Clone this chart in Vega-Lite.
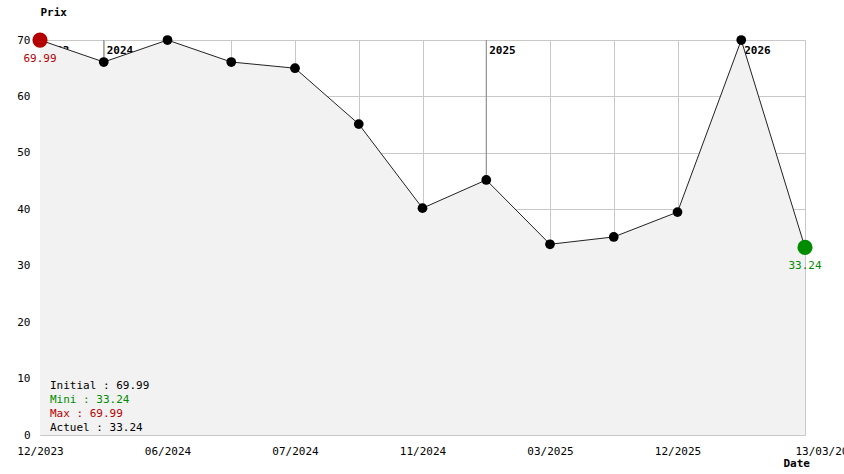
{
  "$schema": "https://vega.github.io/schema/vega-lite/v6.json",
  "width": 765,
  "height": 395,
  "autosize": "none",
  "padding": {"left": 40, "top": 40, "right": 39, "bottom": 39},
  "background": "white",
  "config": {
    "view": {"stroke": null},
    "font": "DejaVu Sans Mono",
    "text": {"font": "DejaVu Sans Mono", "fontSize": 11}
  },
  "datasets": {
    "prices": [
      {"i": 0, "v": 69.99},
      {"i": 1, "v": 66.1},
      {"i": 2, "v": 69.99},
      {"i": 3, "v": 66.1},
      {"i": 4, "v": 65.0},
      {"i": 5, "v": 55.1},
      {"i": 6, "v": 40.2},
      {"i": 7, "v": 45.2},
      {"i": 8, "v": 33.8},
      {"i": 9, "v": 35.1},
      {"i": 10, "v": 39.5},
      {"i": 11, "v": 69.99},
      {"i": 12, "v": 33.24}
    ],
    "years": [
      {"i": 0, "v": 69.99, "top": 70, "year": "2023"},
      {"i": 1, "v": 66.1, "top": 70, "year": "2024"},
      {"i": 7, "v": 45.2, "top": 70, "year": "2025"},
      {"i": 11, "v": 69.99, "top": 70, "year": "2026"}
    ],
    "extremes": [
      {"i": 0, "v": 69.99, "label": "69.99", "kind": "max"},
      {"i": 12, "v": 33.24, "label": "33.24", "kind": "min"}
    ],
    "legend": [
      {"i": 0, "v": 8.68, "label": "Initial : 69.99", "kind": "normal"},
      {"i": 0, "v": 6.2, "label": "Mini : 33.24", "kind": "min"},
      {"i": 0, "v": 3.72, "label": "Max : 69.99", "kind": "max"},
      {"i": 0, "v": 1.24, "label": "Actuel : 33.24", "kind": "normal"}
    ]
  },
  "layer": [
    {
      "data": {"name": "years"},
      "mark": {"type": "rule", "color": "#888888", "strokeWidth": 1},
      "encoding": {
        "x": {
          "field": "i", "type": "quantitative",
          "scale": {"domain": [0, 12], "nice": false, "zero": false},
          "axis": {
            "values": [0, 1, 2, 3, 4, 5, 6, 7, 8, 9, 10, 11, 12],
            "labelExpr": "['12/2023','','06/2024','','07/2024','','11/2024','','03/2025','','12/2025','','13/03/2026'][datum.value]",
            "grid": true, "gridColor": "#c8c8c8", "gridWidth": 1,
            "domain": false, "ticks": false,
            "labelFont": "DejaVu Sans Mono", "labelFontSize": 11, "labelColor": "#000000",
            "labelPadding": 10, "labelOverlap": false, "labelFlush": false,
            "labelAlign": {"condition": {"test": "datum.value == 12", "value": "left"}, "value": "center"},
            "labelOffset": {"condition": {"test": "datum.value == 12", "value": -10}, "value": 0},
            "title": "Date", "titleFont": "DejaVu Sans Mono", "titleFontSize": 11, "titleFontWeight": "bold",
            "titleColor": "#000000", "titleX": 743, "titleY": 28, "titleAlign": "left", "titleBaseline": "middle"
          }
        },
        "y": {
          "field": "top", "type": "quantitative",
          "scale": {"domain": [0, 70], "nice": false},
          "axis": {
            "values": [0, 10, 20, 30, 40, 50, 60, 70],
            "grid": true, "gridColor": "#c8c8c8", "gridWidth": 1,
            "domain": false, "ticks": false,
            "labelFont": "DejaVu Sans Mono", "labelFontSize": 11, "labelColor": "#000000",
            "labelPadding": 10,
            "title": "Prix", "titleFont": "DejaVu Sans Mono", "titleFontSize": 11, "titleFontWeight": "bold",
            "titleColor": "#000000", "titleAngle": 0, "titleX": 0, "titleY": -28, "titleAlign": "left", "titleBaseline": "middle"
          }
        },
        "y2": {"field": "v"}
      }
    },
    {
      "data": {"name": "years"},
      "mark": {"type": "text", "align": "left", "baseline": "middle", "dx": 3, "dy": 11, "fontWeight": "bold", "color": "#000000", "fontSize": 11},
      "encoding": {
        "x": {"field": "i", "type": "quantitative"},
        "y": {"field": "top", "type": "quantitative"},
        "text": {"field": "year"}
      }
    },
    {
      "data": {"name": "prices"},
      "mark": {"type": "area", "color": "#f2f2f2", "opacity": 1},
      "encoding": {
        "x": {"field": "i", "type": "quantitative"},
        "y": {"field": "v", "type": "quantitative"}
      }
    },
    {
      "data": {"name": "prices"},
      "mark": {"type": "line", "color": "#222222", "strokeWidth": 1},
      "encoding": {
        "x": {"field": "i", "type": "quantitative"},
        "y": {"field": "v", "type": "quantitative"}
      }
    },
    {
      "data": {"name": "prices"},
      "mark": {"type": "point", "filled": true, "color": "#000000", "size": 95, "opacity": 1},
      "encoding": {
        "x": {"field": "i", "type": "quantitative"},
        "y": {"field": "v", "type": "quantitative"}
      }
    },
    {
      "data": {"name": "extremes"},
      "mark": {"type": "point", "filled": true, "size": 230, "opacity": 1},
      "encoding": {
        "x": {"field": "i", "type": "quantitative"},
        "y": {"field": "v", "type": "quantitative"},
        "color": {"field": "kind", "type": "nominal", "scale": {"domain": ["max", "min", "normal"], "range": ["#b40000", "#008c00", "#000000"]}, "legend": null}
      }
    },
    {
      "data": {"name": "extremes"},
      "mark": {"type": "text", "align": "center", "baseline": "middle", "dy": 19, "fontSize": 11},
      "encoding": {
        "x": {"field": "i", "type": "quantitative"},
        "y": {"field": "v", "type": "quantitative"},
        "text": {"field": "label"},
        "color": {"field": "kind", "type": "nominal", "scale": {"domain": ["max", "min", "normal"], "range": ["#a00000", "#008c00", "#000000"]}, "legend": null}
      }
    },
    {
      "data": {"name": "legend"},
      "mark": {"type": "text", "align": "left", "baseline": "middle", "dx": 10, "fontSize": 11},
      "encoding": {
        "x": {"field": "i", "type": "quantitative"},
        "y": {"field": "v", "type": "quantitative"},
        "text": {"field": "label"},
        "color": {"field": "kind", "type": "nominal", "scale": {"domain": ["max", "min", "normal"], "range": ["#cc0000", "#008c00", "#000000"]}, "legend": null}
      }
    }
  ]
}
